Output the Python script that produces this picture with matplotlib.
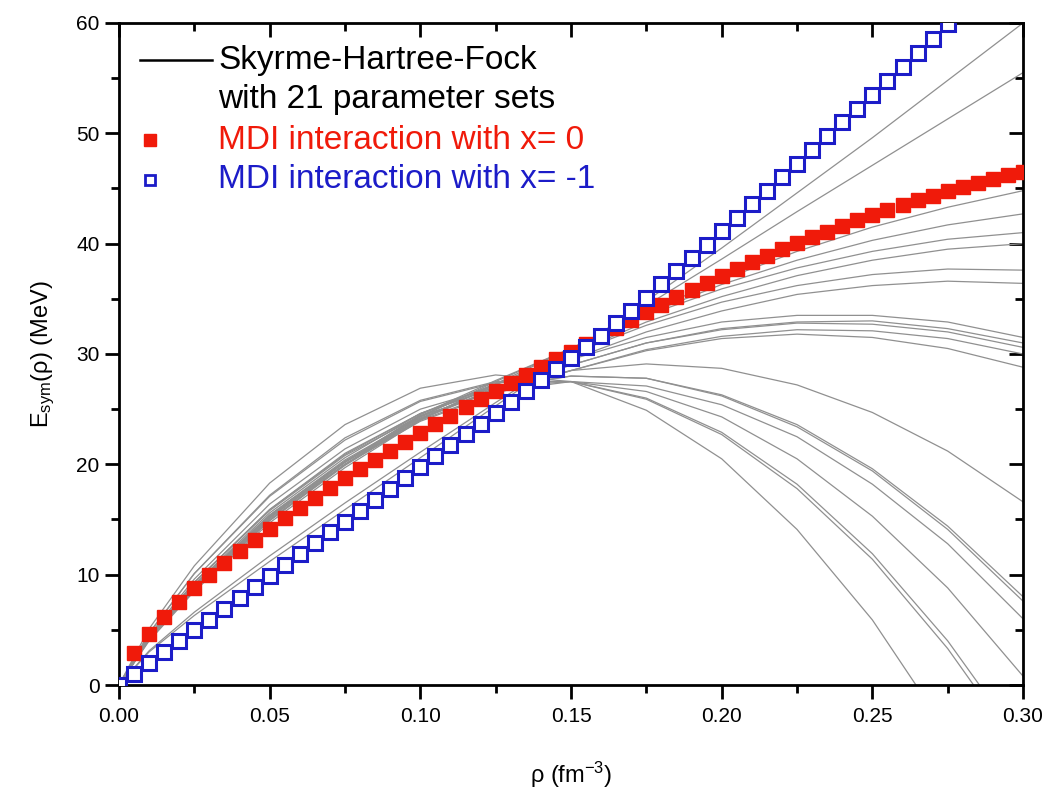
import numpy as np
import matplotlib.pyplot as plt
from matplotlib.ticker import MultipleLocator

plt.rcParams['font.family'] = ['Liberation Sans', 'DejaVu Sans']
plt.rcParams['mathtext.fontset'] = 'custom'
plt.rcParams['mathtext.rm'] = 'Liberation Sans'
plt.rcParams['mathtext.it'] = 'Liberation Sans:italic'

# ---------------- data ----------------
# Skyrme-Hartree-Fock curves, sampled at these densities (fm^-3)
rho_shf = [0, 0.01, 0.025, 0.05, 0.075, 0.1, 0.125, 0.15, 0.175, 0.2, 0.225, 0.25, 0.275, 0.3]
esym_shf = [
    [0, 3.0, 6.3, 11.2, 15.9, 20.6, 25.3, 30.0, 34.8, 39.6, 44.6, 49.6, 54.8, 60.0],
    [0, 3.1, 6.6, 11.7, 16.5, 21.1, 25.6, 30.0, 34.4, 38.6, 42.9, 47.1, 51.3, 55.5],
    [0, 4.0, 8.5, 14.7, 19.7, 24.0, 27.3, 30.5, 33.8, 36.7, 39.3, 41.5, 43.3, 44.8],
    [0, 4.1, 8.6, 14.9, 20.0, 24.3, 27.5, 30.5, 33.6, 36.3, 38.5, 40.3, 41.7, 42.7],
    [0, 4.2, 8.7, 15.1, 20.2, 24.5, 27.6, 30.5, 33.5, 35.9, 37.8, 39.3, 40.4, 41.0],
    [0, 4.1, 8.7, 14.9, 19.9, 24.1, 27.2, 30.0, 32.9, 35.2, 37.1, 38.5, 39.5, 40.0],
    [0, 4.2, 8.8, 15.2, 20.2, 24.4, 27.3, 30.0, 32.6, 34.7, 36.2, 37.2, 37.7, 37.6],
    [0, 4.2, 8.8, 15.0, 20.0, 24.1, 26.9, 29.5, 32.0, 33.9, 35.4, 36.2, 36.6, 36.4],
    [0, 4.3, 9.1, 15.6, 20.6, 24.6, 27.3, 29.5, 31.5, 32.9, 33.5, 33.5, 32.9, 31.5],
    [0, 4.3, 9.0, 15.4, 20.3, 24.2, 26.8, 29.0, 31.0, 32.3, 32.9, 33.0, 32.3, 31.0],
    [0, 4.3, 9.0, 15.4, 20.4, 24.3, 26.8, 29.0, 31.0, 32.2, 32.8, 32.7, 32.0, 30.6],
    [0, 4.2, 8.9, 15.2, 20.0, 23.9, 26.4, 28.5, 30.4, 31.6, 32.2, 32.1, 31.4, 30.0],
    [0, 4.3, 9.0, 15.3, 20.2, 24.0, 26.5, 28.5, 30.3, 31.4, 31.8, 31.5, 30.5, 28.8],
    [0, 4.2, 8.8, 15.2, 20.2, 24.1, 26.8, 28.5, 29.1, 28.7, 27.2, 24.7, 21.2, 16.6],
    [0, 4.4, 9.3, 15.9, 20.9, 24.6, 26.9, 28.0, 27.8, 26.3, 23.6, 19.6, 14.4, 8.0],
    [0, 4.4, 9.3, 15.9, 21.0, 24.6, 27.0, 28.0, 27.8, 26.2, 23.4, 19.4, 14.1, 7.6],
    [0, 4.4, 9.3, 15.8, 20.8, 24.4, 26.6, 27.5, 27.1, 25.4, 22.5, 18.2, 12.8, 6.0],
    [0, 4.5, 9.6, 16.4, 21.4, 25.0, 27.0, 27.5, 26.6, 24.3, 20.5, 15.3, 8.8, 0.8],
    [0, 4.7, 10.1, 17.1, 22.2, 25.7, 27.4, 27.5, 26.0, 22.9, 18.2, 11.9, 4.0, -5.5],
    [0, 4.7, 10.1, 17.2, 22.4, 25.8, 27.5, 27.5, 25.9, 22.7, 17.8, 11.4, 3.3, -6.3],
    [0, 5.1, 10.8, 18.3, 23.6, 26.9, 28.1, 27.5, 24.9, 20.5, 14.1, 5.9, -4.3, -15.5],
]

# MDI interaction, x = 0 (every 0.005 fm^-3 from 0 to 0.30)
rho_x0 = np.round(np.arange(0, 0.3001, 0.005), 3)
esym_x0 = [0, 2.89, 4.66, 6.17, 7.53, 8.78, 9.95, 11.07, 12.14, 13.17, 14.16,
           15.12, 16.06, 16.97, 17.86, 18.73, 19.59, 20.42, 21.24, 22.05, 22.85,
           23.63, 24.40, 25.16, 25.91, 26.65, 27.38, 28.10, 28.82, 29.52, 30.22,
           30.92, 31.60, 32.34, 33.07, 33.78, 34.48, 35.16, 35.82, 36.47, 37.10,
           37.72, 38.32, 38.91, 39.48, 40.04, 40.58, 41.10, 41.61, 42.10, 42.58,
           43.04, 43.49, 43.92, 44.34, 44.74, 45.12, 45.49, 45.84, 46.18, 46.50]

# MDI interaction, x = -1 (every 0.005 fm^-3 from 0 to 0.28)
rho_xm1 = np.round(np.arange(0, 0.2801, 0.005), 3)
esym_xm1 = [0, 0.99, 1.98, 2.96, 3.95, 4.94, 5.93, 6.91, 7.90, 8.89, 9.88,
            10.86, 11.85, 12.84, 13.83, 14.81, 15.80, 16.79, 17.78, 18.76, 19.75,
            20.74, 21.73, 22.71, 23.70, 24.69, 25.68, 26.66, 27.65, 28.64, 29.63,
            30.61, 31.60, 32.77, 33.94, 35.12, 36.31, 37.51, 38.70, 39.91, 41.12,
            42.33, 43.55, 44.78, 46.01, 47.25, 48.49, 49.74, 50.99, 52.24, 53.50,
            54.77, 56.04, 57.31, 58.59, 59.87, 61.16]

red = '#f01a0a'
blue = '#1c1cc8'

fig = plt.figure(figsize=(10.51, 7.98), dpi=100)
ax = fig.add_axes([0.1132, 0.1416, 0.8602, 0.8296])

for e in esym_shf:
    ax.plot(rho_shf, e, color='#909090', lw=0.9, zorder=1)

ax.plot(rho_x0, esym_x0, ls='none', marker='s', ms=10.5, color=red,
        mec=red, zorder=3)
ax.plot(rho_xm1, esym_xm1, ls='none', marker='s', ms=10, mfc='white',
        mec=blue, mew=2.2, zorder=4)

ax.set_xlim(0, 0.30)
ax.set_ylim(0, 60)
ax.xaxis.set_major_locator(MultipleLocator(0.05))
ax.xaxis.set_minor_locator(MultipleLocator(0.025))
ax.yaxis.set_major_locator(MultipleLocator(10))
ax.yaxis.set_minor_locator(MultipleLocator(5))
ax.set_xticks([0, 0.05, 0.10, 0.15, 0.20, 0.25, 0.30])
ax.set_xticklabels(['0.00', '0.05', '0.10', '0.15', '0.20', '0.25', '0.30'])

for s in ax.spines.values():
    s.set_linewidth(2)
ax.tick_params(which='both', width=2, labelsize=15)
ax.tick_params(which='major', length=10)
ax.tick_params(which='minor', length=6)
ax.tick_params(axis='x', which='both', direction='out', top=False, pad=6)
ax.tick_params(axis='y', which='both', direction='out', right=False, pad=4)
# inward ticks on the top and right frame
ax2 = ax.secondary_xaxis('top')
ax2.xaxis.set_major_locator(MultipleLocator(0.05))
ax2.xaxis.set_minor_locator(MultipleLocator(0.025))
ax2.tick_params(which='both', direction='in', width=2, labeltop=False)
ax2.tick_params(which='major', length=10)
ax2.tick_params(which='minor', length=6)
ax3 = ax.secondary_yaxis('right')
ax3.yaxis.set_major_locator(MultipleLocator(10))
ax3.yaxis.set_minor_locator(MultipleLocator(5))
ax3.tick_params(which='both', direction='in', width=2, labelright=False)
ax3.tick_params(which='major', length=10)
ax3.tick_params(which='minor', length=6)

ax.set_xlabel('ρ (fm$^{-3}$)', fontsize=17, labelpad=24)
ax.set_ylabel('E$_{\\mathrm{sym}}$(ρ) (MeV)', fontsize=17, labelpad=14)

# legend drawn by hand in axes coordinates
ax.plot([0.023, 0.103], [0.944, 0.944], color='black', lw=1.8,
        transform=ax.transAxes, clip_on=False)
ax.text(0.1095, 0.944, 'Skyrme-Hartree-Fock', transform=ax.transAxes,
        fontsize=24, va='center', ha='left')
ax.text(0.1095, 0.884, 'with 21 parameter sets', transform=ax.transAxes,
        fontsize=24, va='center', ha='left')
ax.plot([0.034], [0.823], ls='none', marker='s', ms=8, color=red,
        transform=ax.transAxes, clip_on=False)
ax.text(0.1095, 0.823, 'MDI interaction with x= 0', transform=ax.transAxes,
        fontsize=24, va='center', ha='left', color=red)
ax.plot([0.034], [0.763], ls='none', marker='s', ms=7, mfc='white', mec=blue,
        mew=2, transform=ax.transAxes, clip_on=False)
ax.text(0.1095, 0.763, 'MDI interaction with x= -1', transform=ax.transAxes,
        fontsize=24, va='center', ha='left', color=blue)

fig.savefig('out.png', dpi=100)
